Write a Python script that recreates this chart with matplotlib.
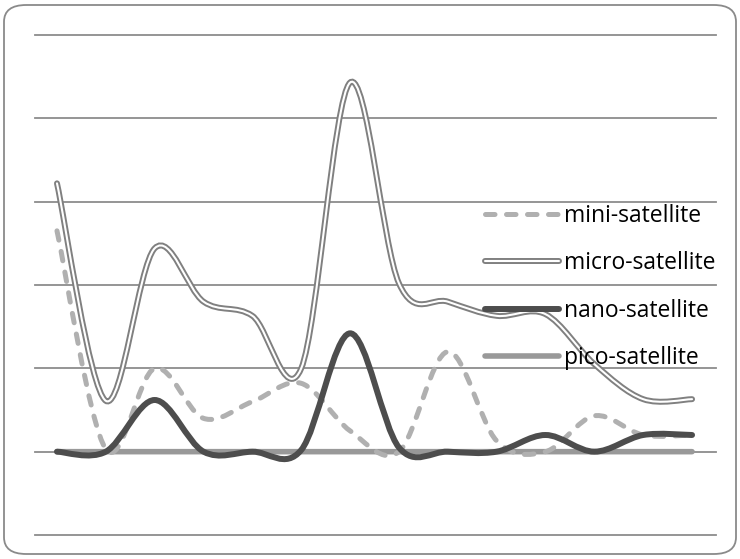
import numpy as np
import matplotlib.pyplot as plt
from matplotlib.path import Path
from matplotlib.patches import PathPatch, FancyBboxPatch
from matplotlib.lines import Line2D
import matplotlib.patheffects as pe

# values (one point per category, 14 categories)
mini = [2.65, 0.03, 1.0, 0.4, 0.6, 0.82, 0.25, 0.0, 1.2, 0.13, 0.0, 0.43, 0.2, 0.2]
micro = [3.22, 0.61, 2.44, 1.8, 1.63, 1.0, 4.43, 2.02, 1.8, 1.63, 1.65, 1.05, 0.63, 0.63]
nano = [0.0, 0.0, 0.62, 0.0, 0.0, 0.02, 1.42, 0.05, 0.0, 0.0, 0.2, 0.0, 0.2, 0.2]
pico = [0.0] * 14
labels = ["mini-satellite", "micro-satellite", "nano-satellite", "pico-satellite"]


def smooth_path(y):
    # excel-like smoothed line: cubic bezier through every point
    x = np.arange(len(y), dtype=float)
    p = np.column_stack([x, np.asarray(y, dtype=float)])
    pts = [p[0]]
    codes = [Path.MOVETO]
    n = len(p)
    for i in range(n - 1):
        p0 = p[max(i - 1, 0)]
        p1 = p[i]
        p2 = p[i + 1]
        p3 = p[min(i + 2, n - 1)]
        pts += [p1 + (p2 - p0) / 6, p2 - (p3 - p1) / 6, p2]
        codes += [Path.CURVE4] * 3
    return Path(np.array(pts), codes)


fig = plt.figure(figsize=(7.4, 5.59), dpi=100)
ax = fig.add_axes([35 / 740, 24 / 559, 681 / 740, 500 / 559])
ax.set_xlim(-0.45, 13.49)
ax.set_ylim(-1, 5)
ax.axis("off")

for v in range(-1, 6):
    ax.axhline(v, color="#8c8c8c", lw=1.3, clip_on=False, zorder=1)

# outer rounded frame
fig.patches.append(FancyBboxPatch((4 / 740, 5 / 559), 732 / 740, 549 / 559,
                                  boxstyle="round,pad=0,rounding_size=0.03",
                                  transform=fig.transFigure, fill=False,
                                  ec="#8a8a8a", lw=1.3))

grey_mini = "#b0b0b0"
grey_micro = "#808080"
grey_nano = "#4d4d4d"
grey_pico = "#999999"
mini_dash = (0, (1.9, 2.3))

ax.add_patch(PathPatch(smooth_path(pico), fill=False, ec=grey_pico, lw=4.0,
                       capstyle="round", clip_on=False, zorder=2))
ax.add_patch(PathPatch(smooth_path(mini), fill=False, ec=grey_mini, lw=3.6,
                       linestyle=mini_dash, capstyle="round", clip_on=False, zorder=3))
ax.add_patch(PathPatch(smooth_path(nano), fill=False, ec=grey_nano, lw=4.3,
                       capstyle="round", clip_on=False, zorder=4))
micro_fx = [pe.Stroke(linewidth=4.3, foreground=grey_micro, capstyle="round"), pe.Normal()]
ax.add_patch(PathPatch(smooth_path(micro), fill=False, ec="white", lw=1.5,
                       capstyle="round", clip_on=False, zorder=5, path_effects=micro_fx))

handles = [
    Line2D([], [], color=grey_mini, lw=3.6, linestyle=mini_dash, dash_capstyle="round"),
    Line2D([], [], color="white", lw=1.5, solid_capstyle="round", path_effects=micro_fx),
    Line2D([], [], color=grey_nano, lw=4.3, solid_capstyle="round"),
    Line2D([], [], color=grey_pico, lw=4.0, solid_capstyle="round"),
]
leg = ax.legend(handles, labels, loc="upper left", bbox_to_anchor=(0.631, 0.704),
                frameon=False, handlelength=3.2, handletextpad=0.25,
                labelspacing=1.03, prop={"family": "Open Sans", "size": 16.5})
leg.set_zorder(6)

fig.savefig("out.png", dpi=100)
